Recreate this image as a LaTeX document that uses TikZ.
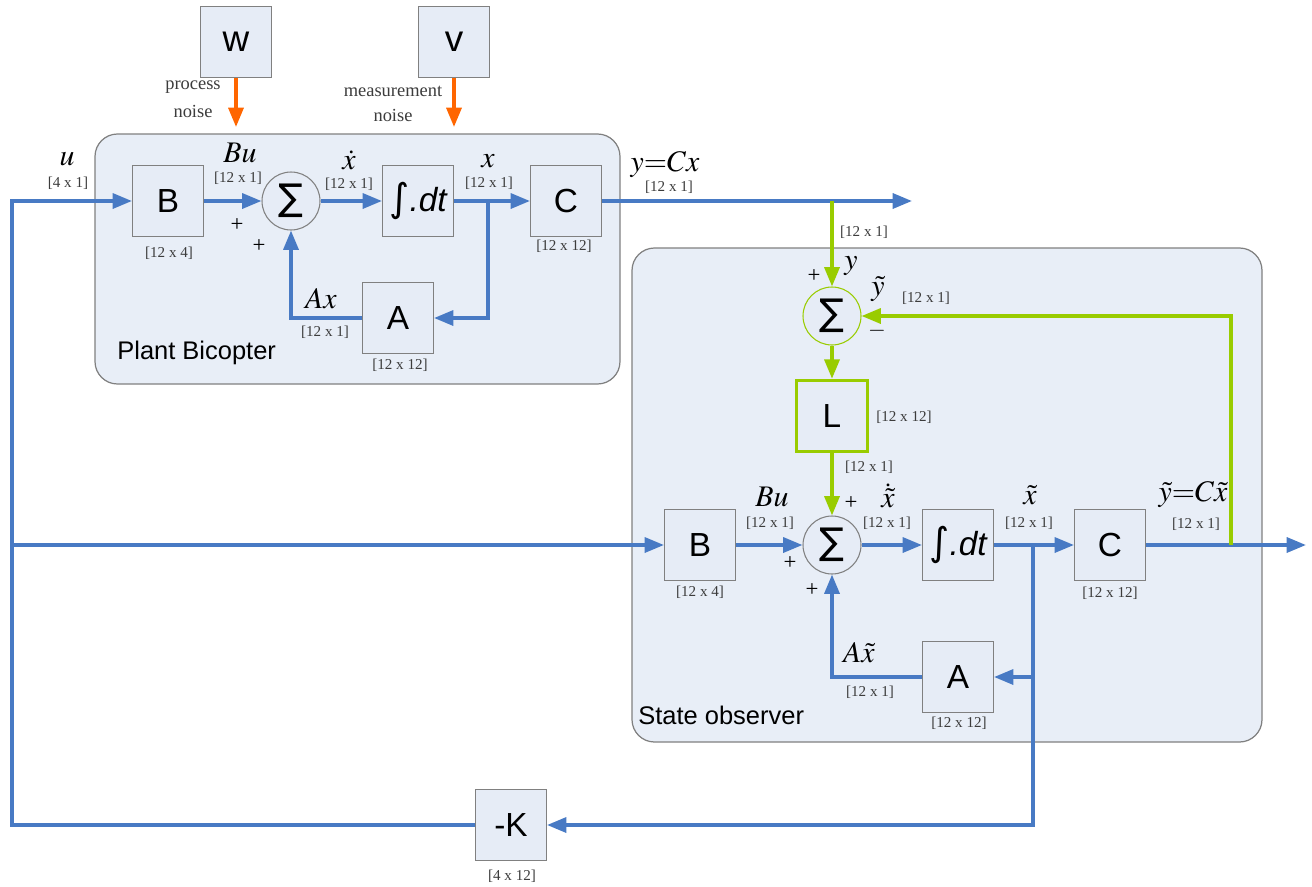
\documentclass[tikz,border=0pt]{standalone}
\usepackage{mathptmx}
\usepackage{fontspec}
\setmainfont{Liberation Serif}
\newfontfamily\lsans{Liberation Sans}
\newfontfamily\dejavu{DejaVu Sans}
\usetikzlibrary{arrows.meta}
\definecolor{lblue}{RGB}{72,122,196}
\definecolor{lgreen}{RGB}{153,204,0}
\definecolor{lorange}{RGB}{255,102,0}
\definecolor{bfill}{RGB}{230,236,246}
\definecolor{cfill}{RGB}{232,238,247}
\definecolor{bdraw}{RGB}{128,128,128}
\definecolor{dimcol}{RGB}{60,60,60}
\tikzset{
  blk/.style={draw=bdraw, line width=0.6pt, fill=bfill, minimum width=1.42cm, minimum height=1.42cm, inner sep=0pt, font=\lsans\fontsize{19}{20}\selectfont},
  sumc/.style={circle, draw=bdraw, line width=0.6pt, fill=bfill, minimum size=1.16cm, inner sep=0pt, font=\dejavu\fontsize{21}{21}\selectfont},
  container/.style={draw=bdraw, line width=0.7pt, fill=cfill, rounded corners=0.45cm},
  tip/.style={-{Triangle[length=11pt,width=8.5pt]}},
  sig/.style={line width=2pt, draw=lblue, tip},
  gsig/.style={line width=2pt, draw=lgreen, tip},
  osig/.style={line width=2pt, draw=lorange, tip},
  dim/.style={font=\fontsize{8.6}{10}\selectfont, text=dimcol, inner sep=0pt},
  lab/.style={font=\fontsize{17}{18}\selectfont, inner sep=0pt},
  sgn/.style={font=\fontsize{13}{14}\selectfont, inner sep=0pt},
  note/.style={font=\fontsize{10.5}{12}\selectfont, text=dimcol, inner sep=0pt},
  ctitle/.style={font=\lsans\fontsize{14.5}{16}\selectfont, anchor=west, inner sep=0pt}
}
\newcommand{\intdt}{{\dejavu\fontsize{22}{22}\selectfont ∫}{\lsans\itshape .dt}}
\begin{document}
\begin{tikzpicture}[x=0.02cm, y=-0.02cm]
\useasboundingbox (0,0) rectangle (1312,886);
% containers
\draw[container] (95,134) rectangle (620,384);
\draw[container] (632,248) rectangle (1262,742);
\node[ctitle] (tplant) at (117,353) {Plant Bicopter};
\node[ctitle] (tobs) at (638,715) {State observer};

% noise sources
\node[blk, font=\lsans\fontsize{21}{21}\selectfont] (w) at (236,42) {w};
\node[blk, font=\lsans\fontsize{21}{21}\selectfont] (v) at (454,42) {v};
\coordinate (wend) at (236,127);
\coordinate (vend) at (454,127);
\draw[osig] (w) -- (wend);
\draw[osig] (v) -- (vend);
\node[note] (pn1) at (193,87) {process};
\node[note] (pn2) at (193,111) {noise};
\node[note] (mn1) at (393,91) {measurement};
\node[note] (mn2) at (393,115) {noise};

% plant blocks
\node[blk] (B1) at (168,201) {B};
\node[sumc] (S1) at (291,201) {∑};
\node[blk] (I1) at (418,201) {\intdt};
\node[blk] (C1) at (566,201) {C};
\node[blk] (A1) at (398,318) {A};
\coordinate (yout) at (912,201);
\coordinate (xj) at (488,201);
\coordinate (yj) at (832,201);

% observer blocks
\node[sumc, draw=lgreen] (S2) at (832,316) {∑};
\node[blk, draw=lgreen, line width=2pt] (L) at (832,416) {L};
\node[blk] (B2) at (700,545) {B};
\node[sumc] (S3) at (832,545) {∑};
\node[blk] (I2) at (958,545) {\intdt};
\node[blk] (C2) at (1110,545) {C};
\node[blk] (A2) at (958,677) {A};
\node[blk] (K) at (511,825) {-K};
\coordinate (xtj) at (1033,545);
\coordinate (aj) at (1033,677);
\coordinate (ytj) at (1231,545);
\coordinate (yout2) at (1306,545);
\coordinate (ul) at (12,201);
\coordinate (uj) at (12,545);

% plant connectors
\draw[sig] (K.west) -| (ul) -- (B1.west);
\draw[sig] (B1) -- (S1);
\draw[sig] (S1) -- (I1);
\draw[sig] (I1) -- (C1);
\draw[sig] (C1) -- (yout);
\draw[sig] (xj) |- (A1.east);
\draw[sig] (A1.west) -| (S1.south);

% observer connectors
\draw[sig] (uj) -- (B2.west);
\draw[sig] (B2) -- (S3);
\draw[sig] (S3) -- (I2);
\draw[sig] (I2) -- (C2);
\draw[sig] (C2) -- (yout2);
\draw[sig] (xtj) |- (K.east);
\draw[sig] (aj) -- (A2.east);
\draw[sig] (A2.west) -| (S3.south);
\draw[gsig] (yj) -- (S2);
\draw[gsig] (S2) -- (L);
\draw[gsig] (L) -- (S3);
\draw[gsig] (ytj) |- (S2.east);

% plant labels
\node[lab] (lu) at (67,159) {$u$};
\node[dim] (du) at (68,183) {[4 x 1]};
\node[lab] (lBu) at (240,153) {$Bu$};
\node[dim] (dBu) at (238,178) {[12 x 1]};
\node[lab] (lxd) at (349,160) {$\dot{x}$};
\node[dim] (dxd) at (349,184) {[12 x 1]};
\node[lab] (lx) at (488,161) {$x$};
\node[dim] (dx) at (489,183) {[12 x 1]};
\node[lab] (ly) at (665,165) {$y{=}Cx$};
\node[dim] (dy) at (669,187) {[12 x 1]};
\node[dim] (dB1) at (169,253) {[12 x 4]};
\node[dim] (dC1) at (564,246) {[12 x 12]};
\node[sgn] (p1) at (237,225) {+};
\node[sgn] (p2) at (259,246) {+};
\node[lab] (lAx) at (321,299) {$Ax$};
\node[dim] (dAx) at (325,332) {[12 x 1]};
\node[dim] (dA1) at (400,365) {[12 x 12]};

% observer labels
\node[dim] (dyj) at (864,232) {[12 x 1]};
\node[sgn] (p3) at (814,276) {+};
\node[lab] (ly2) at (851,266) {$y$};
\node[lab] (lyt) at (878,289) {$\tilde{y}$};
\node[dim] (dyt) at (926,298) {[12 x 1]};
\node[sgn] (m1) at (877,331) {$-$};
\node[dim] (dL) at (904,417) {[12 x 12]};
\node[dim] (dLo) at (869,467) {[12 x 1]};
\node[lab] (lBu2) at (772,497) {$Bu$};
\node[dim] (dBu2) at (770,523) {[12 x 1]};
\node[sgn] (p4) at (851,503) {+};
\node[sgn] (p5) at (790,563) {+};
\node[sgn] (p6) at (812,590) {+};
\node[lab] (lxtd) at (888,496) {$\dot{\tilde{x}}$};
\node[dim] (dxtd) at (887,523) {[12 x 1]};
\node[lab] (lxt) at (1030,495) {$\tilde{x}$};
\node[dim] (dxt) at (1029,523) {[12 x 1]};
\node[lab] (lyc) at (1193,495) {$\tilde{y}{=}C\tilde{x}$};
\node[dim] (dyc) at (1196,524) {[12 x 1]};
\node[dim] (dB2) at (700,592) {[12 x 4]};
\node[dim] (dC2) at (1110,593) {[12 x 12]};
\node[lab] (lAx2) at (859,653) {$A\tilde{x}$};
\node[dim] (dAx2) at (870,692) {[12 x 1]};
\node[dim] (dA2) at (959,723) {[12 x 12]};
\node[dim] (dK) at (512,876) {[4 x 12]};
\end{tikzpicture}
\end{document}
